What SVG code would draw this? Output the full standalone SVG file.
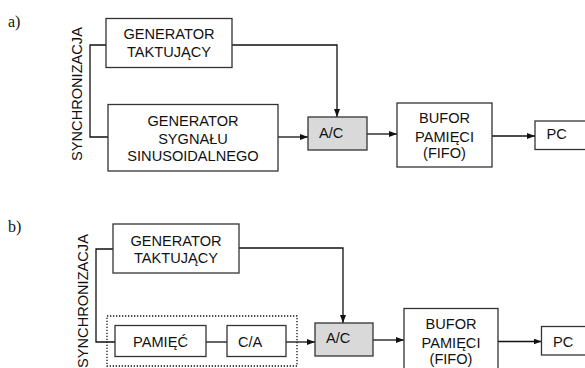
<svg xmlns="http://www.w3.org/2000/svg" width="585" height="368" viewBox="0 0 585 368">
<style>
.box{fill:#fff;stroke:#333;stroke-width:1.3}
.gray{fill:#d9d9d9;stroke:#333;stroke-width:1.3}
.dot{fill:none;stroke:#111;stroke-width:1.3;stroke-dasharray:1.3 1.7}
.ln{fill:none;stroke:#111;stroke-width:1.3}
.t{font-family:"Liberation Sans",Arial,sans-serif;font-size:14.6px;fill:#111;text-anchor:middle}
.l{text-anchor:start}
.lab{font-family:"Liberation Serif","Times New Roman",serif;font-size:16px;fill:#111}
</style>
<defs>
<marker id="ar" markerWidth="8" markerHeight="6" refX="8" refY="3" orient="auto" markerUnits="userSpaceOnUse">
<path d="M0,0 L8,3 L0,6 z" fill="#111"/>
</marker>
</defs>
<text class="lab" x="8" y="27">a)</text>
<text class="lab" x="8" y="232">b)</text>
<text class="t" transform="translate(81.7,94) rotate(-90)">SYNCHRONIZACJA</text>
<text class="t" transform="translate(88,301) rotate(-90)">SYNCHRONIZACJA</text>
<g id="connectors">
<path class="ln" d="M106,45 H90 V137 H108"/>
<path class="ln" d="M232,45 H337 V117" marker-end="url(#ar)"/>
<path class="ln" d="M278,137 H308" marker-end="url(#ar)"/>
<path class="ln" d="M367,134 H397" marker-end="url(#ar)"/>
<path class="ln" d="M492,136 H535" marker-end="url(#ar)"/>
<path class="ln" d="M113,249 H96 V342 H115"/>
<path class="ln" d="M206,342 H227"/>
<path class="ln" d="M239,248 H343 V323" marker-end="url(#ar)"/>
<path class="ln" d="M286,342 H315" marker-end="url(#ar)"/>
<path class="ln" d="M373,340 H404" marker-end="url(#ar)"/>
<path class="ln" d="M498,341.5 H541.5" marker-end="url(#ar)"/>
</g>
<g id="a-gen-takt">
<rect class="box" x="106" y="18.5" width="126" height="49"/>
<text class="t" x="169" y="39.3">GENERATOR</text>
<text class="t" x="169" y="56.7">TAKTUJĄCY</text>
</g>
<g id="a-gen-sin">
<rect class="box" x="108" y="104.5" width="170" height="66.5"/>
<text class="t" x="193" y="126">GENERATOR</text>
<text class="t" x="193" y="143.5">SYGNAŁU</text>
<text class="t" x="193" y="160.7">SINUSOIDALNEGO</text>
</g>
<g id="a-ac">
<rect class="gray" x="308" y="117" width="59" height="33"/>
<text class="t l" x="319" y="138.3">A/C</text>
</g>
<g id="a-bufor">
<rect class="box" x="397" y="103" width="95" height="64"/>
<text class="t" x="444.5" y="123.3">BUFOR</text>
<text class="t" x="444.5" y="141.7">PAMIĘCI</text>
<text class="t" x="444.5" y="158">(FIFO)</text>
</g>
<g id="a-pc">
<rect class="box" x="535" y="121" width="60" height="28.5"/>
<text class="t l" x="546.5" y="139.3">PC</text>
</g>
<g id="b-gen-takt">
<rect class="box" x="113" y="224" width="126" height="49"/>
<text class="t" x="176" y="246">GENERATOR</text>
<text class="t" x="176" y="262.7">TAKTUJĄCY</text>
</g>
<g id="b-group">
<rect class="dot" x="107" y="316" width="190" height="50"/>
</g>
<g id="b-pamiec">
<rect class="box" x="115" y="325.5" width="91" height="31"/>
<text class="t" x="160.5" y="346.7">PAMIĘĆ</text>
</g>
<g id="b-ca">
<rect class="box" x="227" y="325.5" width="59" height="31"/>
<text class="t l" x="238" y="346.7">C/A</text>
</g>
<g id="b-ac">
<rect class="gray" x="315" y="323" width="58" height="33"/>
<text class="t l" x="326" y="343.3">A/C</text>
</g>
<g id="b-bufor">
<rect class="box" x="404" y="308.5" width="94" height="64"/>
<text class="t" x="451" y="329.3">BUFOR</text>
<text class="t" x="451" y="348">PAMIĘCI</text>
<text class="t" x="451" y="364">(FIFO)</text>
</g>
<g id="b-pc">
<rect class="box" x="541.5" y="326.5" width="60" height="28.5"/>
<text class="t l" x="553" y="346.7">PC</text>
</g>
</svg>
